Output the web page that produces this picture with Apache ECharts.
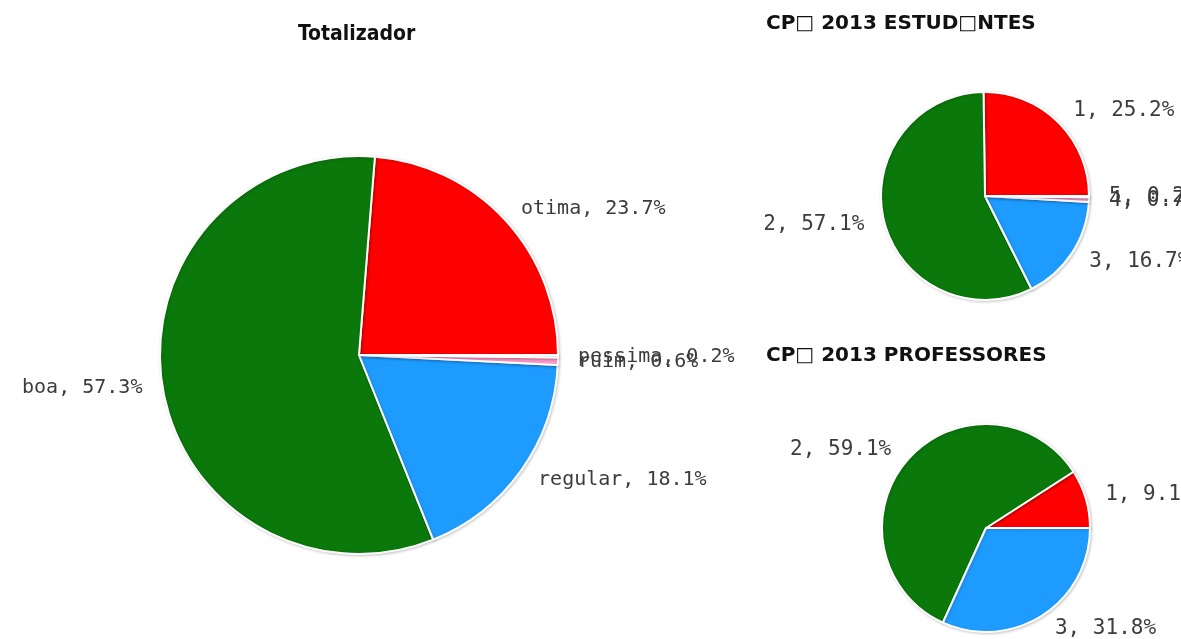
<!DOCTYPE html>
<html>
<head>
<meta charset="utf-8">
<script src="https://cdn.jsdelivr.net/npm/echarts@6/dist/echarts.min.js"></script>
<style>
html,body{margin:0;padding:0;background:#fff;width:1181px;height:639px;overflow:hidden;}
#left{position:absolute;left:0;top:0;width:765px;height:639px;}
#right{position:absolute;left:765px;top:0;width:416px;height:639px;overflow:hidden;}
</style>
</head>
<body>
<div id="left"></div>
<div id="right"></div>
<script>
// ---- data ----
const totalTitle = 'Totalizador';
const totalNames = ['otima', 'boa', 'regular', 'ruim', 'pessima'];
const totalValues = [23.7, 57.3, 18.1, 0.6, 0.2];

const estTitle = 'CP\u25A1 2013 ESTUD\u25A1NTES';
const estNames = ['1', '2', '3', '4', '5'];
const estValues = [25.2, 57.1, 16.7, 0.7, 0.2];

const profTitle = 'CP\u25A1 2013 PROFESSORES';
const profNames = ['1', '2', '3'];
const profValues = [9.1, 59.1, 31.8];

const sliceColors = ['#ff0000', '#0b780b', '#1e9bff', '#ff99cc', '#ffd0ea'];

function toData(names, values) {
  return names.map((n, i) => ({ name: n, value: values[i] }));
}

function pieSeries(names, values, center, radius, fontSize) {
  return {
    type: 'pie',
    center: center,
    radius: radius,
    startAngle: 0,
    clockwise: false,
    avoidLabelOverlap: false,
    minShowLabelAngle: 0,
    silent: true,
    data: toData(names, values),
    color: sliceColors,
    itemStyle: {
      borderColor: '#ffffff',
      borderWidth: 2,
      shadowColor: 'rgba(0,0,0,0.18)',
      shadowBlur: 3,
      shadowOffsetX: 1,
      shadowOffsetY: 1
    },
    label: {
      show: true,
      position: 'outside',
      formatter: p => p.name + ', ' + p.value.toFixed(1) + '%',
      fontFamily: "'DejaVu Sans Mono', 'Liberation Mono', monospace",
      fontSize: fontSize,
      color: '#3c3c3c',
      width: 260,
      overflow: 'none',
      distanceToLabelLine: 4
    },
    labelLine: { show: false, length: 16, length2: 0 },
    labelLayout: { hideOverlap: false },
    emphasis: { disabled: true }
  };
}

const left = echarts.init(document.getElementById('left'), null, { renderer: 'canvas' });
left.setOption({
  animation: false,
  backgroundColor: '#ffffff',
  title: [{
    text: totalTitle,
    left: 298,
    top: 24,
    padding: 0,
    textStyle: {
      fontFamily: "'DejaVu Sans Condensed', 'Liberation Sans Narrow', 'DejaVu Sans'",
      fontWeight: 'bold',
      fontSize: 21,
      color: '#111'
    }
  }],
  series: [pieSeries(totalNames, totalValues, [359, 355], 199, 20)]
});

const right = echarts.init(document.getElementById('right'), null, { renderer: 'canvas' });
right.setOption({
  animation: false,
  backgroundColor: '#ffffff',
  title: [{
    text: estTitle,
    left: 1,
    top: 14,
    padding: 0,
    textStyle: { fontFamily: "'DejaVu Sans', sans-serif", fontWeight: 'bold', fontSize: 20, color: '#111' }
  }, {
    text: profTitle,
    left: 1,
    top: 346,
    padding: 0,
    textStyle: { fontFamily: "'DejaVu Sans', sans-serif", fontWeight: 'bold', fontSize: 20, color: '#111' }
  }],
  series: [
    pieSeries(estNames, estValues, [220, 196], 104, 21),
    pieSeries(profNames, profValues, [221, 528], 104, 21)
  ]
});
</script>
</body>
</html>
